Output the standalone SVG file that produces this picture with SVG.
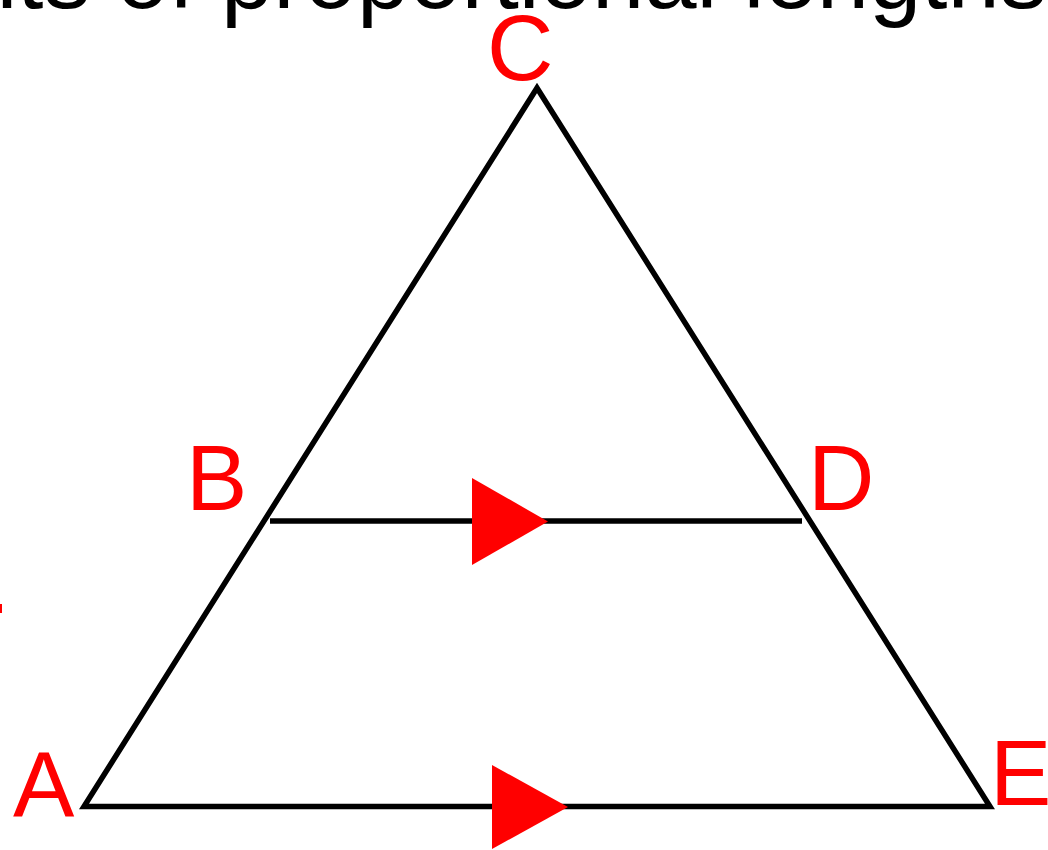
<svg xmlns="http://www.w3.org/2000/svg" width="1048" height="850" viewBox="0 0 1048 850">
  <style>
    .lbl { font-family: "Liberation Sans", Arial, sans-serif; font-size: 92px; fill: #ff0000; }
    .title { font-family: "Liberation Sans", Arial, sans-serif; font-size: 94px; fill: #000000; }
    .edge { fill: none; stroke: #000000; stroke-width: 5.5; stroke-linejoin: miter; stroke-miterlimit: 10; }
    .arrow { fill: #ff0000; stroke: none; }
  </style>
  <rect x="0" y="0" width="1048" height="850" fill="#ffffff"/>
  <text class="title" x="-35" y="8">nts of proportional lengths</text>
  <g id="connectors">
    <polygon class="edge" points="84,806.5 537,88 990,806.5"/>
    <line class="edge" x1="270" y1="521" x2="802" y2="521"/>
    <polygon class="arrow" points="472,478 472,565 548,521.5"/>
    <polygon class="arrow" points="492,765 492,849 568,807"/>
  </g>
  <g id="node-A"><text class="lbl" x="13" y="817">A</text></g>
  <g id="node-B"><text class="lbl" x="186" y="510">B</text></g>
  <g id="node-C"><text class="lbl" x="487" y="80">C</text></g>
  <g id="node-D"><text class="lbl" x="808" y="510">D</text></g>
  <g id="node-E"><text class="lbl" x="990" y="805">E</text></g>
  <rect x="0" y="604" width="2" height="9" fill="#ff0000"/>
</svg>
